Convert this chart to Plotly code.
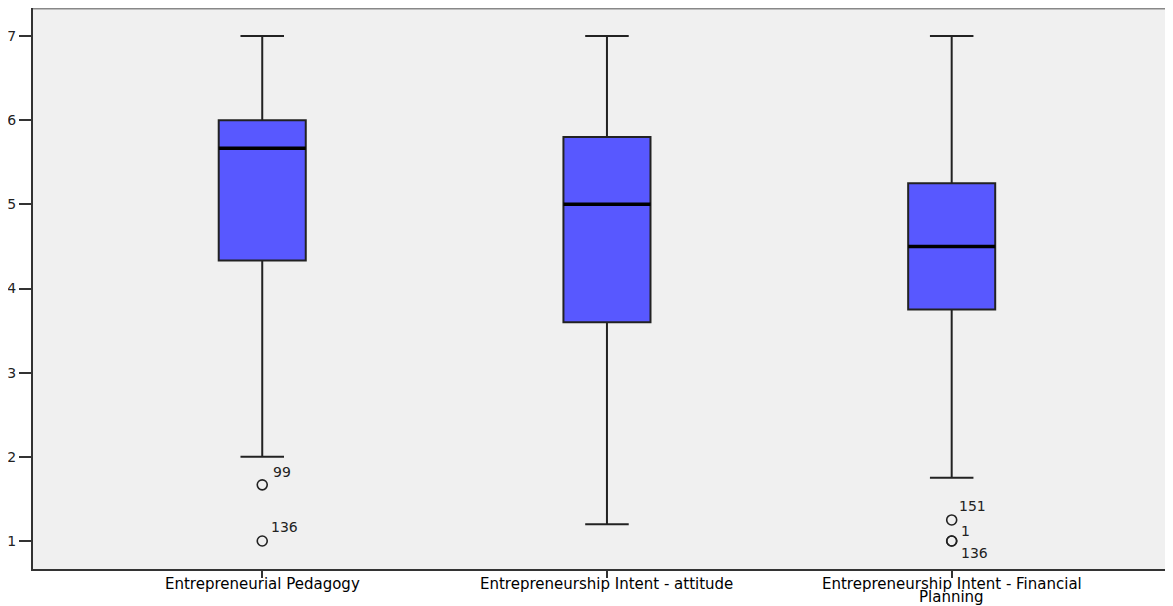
import plotly.graph_objects as go

categories = ["Entrepreneurial Pedagogy",
              "Entrepreneurship Intent - attitude",
              "Entrepreneurship Intent - Financial"]
category_second_line = ["", "", "Planning"]
positions = [0, 1, 2]
lower_whisker = [2.0, 1.2, 1.75]
q1 = [4.333, 3.6, 3.75]
median = [5.667, 5.0, 4.5]
q3 = [6.0, 5.8, 5.25]
upper_whisker = [7.0, 7.0, 7.0]

outlier_pos = [0, 0, 2, 2, 2]
outlier_val = [1.667, 1.0, 1.25, 1.0, 1.0]
outlier_lbl = ["99", "136", "151", "1", "136"]
label_dx = [20, 22, 21, 14, 23]
label_dy = [13, 14, 14, 10, -12]

yticks = [1, 2, 3, 4, 5, 6, 7]

BOX_W = 0.2525
FILL = "rgb(88,88,255)"
DARK = "#222222"
XFONT = dict(family="DejaVu Sans", size=15, color="black")

fig = go.Figure()
fig.add_trace(go.Box(
    x=positions, q1=q1, median=median, q3=q3,
    lowerfence=lower_whisker, upperfence=upper_whisker,
    width=BOX_W, whiskerwidth=0.5, fillcolor=FILL,
    line=dict(color=DARK, width=2), boxpoints=False, showlegend=False,
    hoverinfo="skip"))

for p, m in zip(positions, median):
    fig.add_trace(go.Scatter(
        x=[p - BOX_W / 2, p + BOX_W / 2], y=[m, m], mode="lines",
        line=dict(color="black", width=3.5), showlegend=False, hoverinfo="skip"))

fig.add_trace(go.Scatter(
    x=outlier_pos, y=outlier_val, mode="markers",
    marker=dict(symbol="circle-open", size=10, color=DARK, line=dict(width=1.6, color=DARK)),
    showlegend=False, hoverinfo="skip"))

for p, v, t, dx, dy in zip(outlier_pos, outlier_val, outlier_lbl, label_dx, label_dy):
    fig.add_annotation(x=p, y=v, text=t, showarrow=False, xshift=dx, yshift=dy,
                       font=dict(family="DejaVu Sans", size=14, color="#222"))

# category labels below the axis
for p, t, t2 in zip(positions, categories, category_second_line):
    fig.add_annotation(x=p, xref="x", y=0, yref="paper", yanchor="middle",
                       text=t, showarrow=False, yshift=-15, font=XFONT)
    if t2:
        fig.add_annotation(x=p, xref="x", y=0, yref="paper", yanchor="middle",
                           text=t2, showarrow=False, yshift=-28, font=XFONT)

fig.add_shape(type="line", xref="paper", yref="paper", x0=0, x1=1, y0=1, y1=1,
              line=dict(color="#888888", width=3))

fig.update_xaxes(range=[-0.665, 2.642], tickvals=positions, showticklabels=False,
                 ticks="outside", ticklen=7, tickwidth=2, tickcolor="#333",
                 showline=True, linecolor="#333", linewidth=2, showgrid=False,
                 zeroline=False, automargin=False)
fig.update_yaxes(range=[0.667, 7.333], tickvals=yticks,
                 ticks="outside", ticklen=12, tickwidth=2, tickcolor="#333",
                 showline=True, linecolor="#333", linewidth=2, showgrid=False,
                 zeroline=False, automargin=False,
                 tickfont=dict(family="DejaVu Sans", size=14, color="#222"))

fig.update_layout(width=1165, height=598, margin=dict(l=25, r=0, t=0, b=37),
                  plot_bgcolor="#F0F0F0", paper_bgcolor="white")

fig.write_html("out.html")
